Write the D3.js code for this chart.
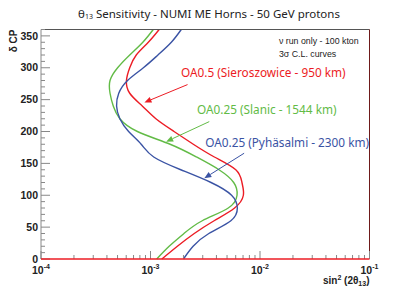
<!DOCTYPE html>
<html>
<head>
<meta charset="utf-8">
<script src="https://cdn.jsdelivr.net/npm/d3@7"></script>
<style>
  body { margin: 0; background: #fff; }
  svg text { font-family: "Liberation Sans", Arial, sans-serif; }
</style>
</head>
<body>
<div id="chart"></div>
<script>
// delta CP grid (degrees) and sin^2(2 theta13) sensitivity for each site
const deltaCP = [0, 20, 40, 60, 80, 100, 120, 140, 160, 180, 200, 220, 240, 260, 280, 300, 320, 340, 360];
const sieroszowice = [0.00127, 0.00176, 0.00251, 0.00381, 0.00586, 0.00705, 0.00684, 0.00601, 0.00383, 0.00246,
                      0.00164, 0.00112, 0.000841, 0.000646, 0.000603, 0.000646, 0.000741, 0.000955, 0.0012];
const slanic       = [0.00114, 0.00148, 0.00202, 0.00297, 0.00513, 0.00617, 0.00575, 0.00422, 0.00263, 0.00151,
                      0.000759, 0.000525, 0.000457, 0.000427, 0.000427, 0.000501, 0.000646, 0.000851, 0.00106];
const pyhasalmi    = [0.0020, 0.00245, 0.00341, 0.00542, 0.00621, 0.0055, 0.00357, 0.00189, 0.00107, 0.000822,
                      0.000631, 0.000525, 0.00049, 0.000513, 0.000617, 0.000861, 0.00117, 0.00155, 0.00191];

const yTicks = [0, 50, 100, 150, 200, 250, 300, 350];
const xDecades = [-4, -3, -2, -1];

const series = [
  { name: "OA0.5 (Sieroszowice - 950 km)", values: sieroszowice, color: "#ec1c24",
    label: [0.0019, 285.5], arrow: [[0.00218, 273.6], [0.00088, 245.6]] },
  { name: "OA0.25 (Slanic - 1544 km)", values: slanic, color: "#62bb46",
    label: [0.00266, 227.6], arrow: [[0.00344, 215.5], [0.00139, 184.1]] },
  { name: "OA0.25 (Pyhäsalmi - 2300 km)", values: pyhasalmi, color: "#3a53a4",
    label: [0.00316, 175.8], arrow: [[0.00716, 165.9], [0.0031, 126.7]] }
];

const W = 411, H = 291;
const plot = { left: 41, right: 369.5, top: 29.5, bottom: 259 };

const svg = d3.select("#chart").append("svg")
    .attr("width", W)
    .attr("height", H);

const x = d3.scaleLog().domain([1e-4, 1e-1]).range([plot.left, plot.right]);
const y = d3.scaleLinear().domain([0, 360]).range([plot.bottom, plot.top]);

// Title
const title = svg.append("text")
    .attr("x", 209).attr("y", 18)
    .attr("text-anchor", "middle")
    .style("font-family", "'Noto Sans', sans-serif")
    .style("font-size", "11.5px")
    .attr("fill", "#222");
title.append("tspan").text("θ");
title.append("tspan").attr("font-size", "7px").attr("dy", 1).text("13");
title.append("tspan").attr("dy", -1).text(" Sensitivity - NUMI ME Horns - 50 GeV protons");

// Curves
const line = d3.line()
    .x(d => x(d[1]))
    .y(d => y(d[0]))
    .curve(d3.curveNatural);

series.forEach(s => {
  svg.append("path")
    .datum(deltaCP.map((dc, i) => [dc, s.values[i]]))
    .attr("d", line)
    .attr("fill", "none")
    .attr("stroke", s.color)
    .attr("stroke-width", 1.4);
});

// Frame
svg.append("line").attr("x1", plot.left).attr("x2", plot.right).attr("y1", plot.top).attr("y2", plot.top)
  .attr("stroke", "#555").attr("stroke-width", 1);
svg.append("line").attr("x1", plot.right).attr("x2", plot.right).attr("y1", plot.top).attr("y2", plot.bottom)
  .attr("stroke", "#6e1a1a").attr("stroke-width", 1);
svg.append("line").attr("x1", plot.left).attr("x2", plot.left).attr("y1", plot.top).attr("y2", plot.bottom)
  .attr("stroke", "#888").attr("stroke-width", 1);

// Y axis ticks (inside)
d3.range(0, 361, 10).forEach(v => {
  const major = v % 50 === 0;
  svg.append("line")
    .attr("x1", plot.left).attr("x2", plot.left + (major ? 9 : 4))
    .attr("y1", y(v)).attr("y2", y(v))
    .attr("stroke", "#888").attr("stroke-width", 1);
});
svg.append("g").selectAll("text")
  .data(yTicks)
  .join("text")
    .attr("x", plot.left - 3)
    .attr("y", d => y(d))
    .attr("dy", "0.35em")
    .attr("text-anchor", "end")
    .style("font-size", "10.5px")
    .style("font-weight", "bold")
    .attr("fill", "#222")
    .text(d => d);

// X axis ticks (inside, log)
xDecades.forEach(p => {
  for (let m = 1; m <= 9; m++) {
    const v = m * Math.pow(10, p);
    if (v > 0.1 + 1e-9) break;
    svg.append("line")
      .attr("x1", x(v)).attr("x2", x(v))
      .attr("y1", plot.bottom).attr("y2", plot.bottom - (m === 1 ? 8 : 4))
      .attr("stroke", "#888").attr("stroke-width", 1);
  }
});
const xl = svg.append("g").selectAll("text")
  .data(xDecades)
  .join("text")
    .attr("x", d => x(Math.pow(10, d)))
    .attr("y", 274)
    .attr("text-anchor", "middle")
    .style("font-size", "10.5px")
    .style("font-weight", "bold")
    .attr("fill", "#222");
xl.append("tspan").text("10");
xl.append("tspan").attr("dy", -5).style("font-size", "7px").text(d => d);

// Bottom line drawn in red (curves reach delta = 0)
svg.append("line").attr("x1", plot.left).attr("x2", plot.right).attr("y1", plot.bottom).attr("y2", plot.bottom)
  .attr("stroke", "#ec1c24").attr("stroke-width", 1.5);

// Axis titles
const xt = svg.append("text")
    .attr("x", plot.right).attr("y", 284)
    .attr("text-anchor", "end")
    .style("font-size", "10px")
    .style("font-weight", "bold")
    .attr("fill", "#222");
xt.append("tspan").text("sin");
xt.append("tspan").attr("dy", -4).style("font-size", "7px").text("2");
xt.append("tspan").attr("dy", 4).text(" (2θ");
xt.append("tspan").attr("dy", 2).style("font-size", "7px").text("13");
xt.append("tspan").attr("dy", -2).text(")");

svg.append("text")
    .attr("transform", `translate(17,${plot.top}) rotate(-90)`)
    .attr("text-anchor", "end")
    .style("font-size", "10px")
    .style("font-weight", "bold")
    .attr("fill", "#222")
    .text("δ CP");

// Info text
const info = svg.append("g")
    .style("font-family", "'Noto Sans', sans-serif")
    .style("font-size", "8.8px")
    .attr("fill", "#222");
info.append("text").attr("x", x(0.0149)).attr("y", 44).text("ν run only - 100 kton");
info.append("text").attr("x", x(0.0149)).attr("y", 57).text("3σ C.L. curves");

// Labels and arrows
series.forEach(s => {
  svg.append("text")
    .attr("x", x(s.label[0]))
    .attr("y", y(s.label[1]))
    .style("font-family", "'Noto Sans', sans-serif")
    .style("font-size", "11.8px")
    .attr("fill", s.color)
    .text(s.name);

  const x0 = x(s.arrow[0][0]), y0 = y(s.arrow[0][1]);
  const x1 = x(s.arrow[1][0]), y1 = y(s.arrow[1][1]);
  const ang = Math.atan2(y1 - y0, x1 - x0);
  const len = 7, half = 3;
  const bx = x1 - len * Math.cos(ang), by = y1 - len * Math.sin(ang);
  svg.append("line")
    .attr("x1", x0).attr("y1", y0).attr("x2", bx).attr("y2", by)
    .attr("stroke", s.color).attr("stroke-width", 1);
  svg.append("polygon")
    .attr("points", [
      [x1, y1],
      [bx + half * Math.sin(ang), by - half * Math.cos(ang)],
      [bx - half * Math.sin(ang), by + half * Math.cos(ang)]
    ].map(p => p.join(",")).join(" "))
    .attr("fill", s.color);
});
</script>
</body>
</html>
